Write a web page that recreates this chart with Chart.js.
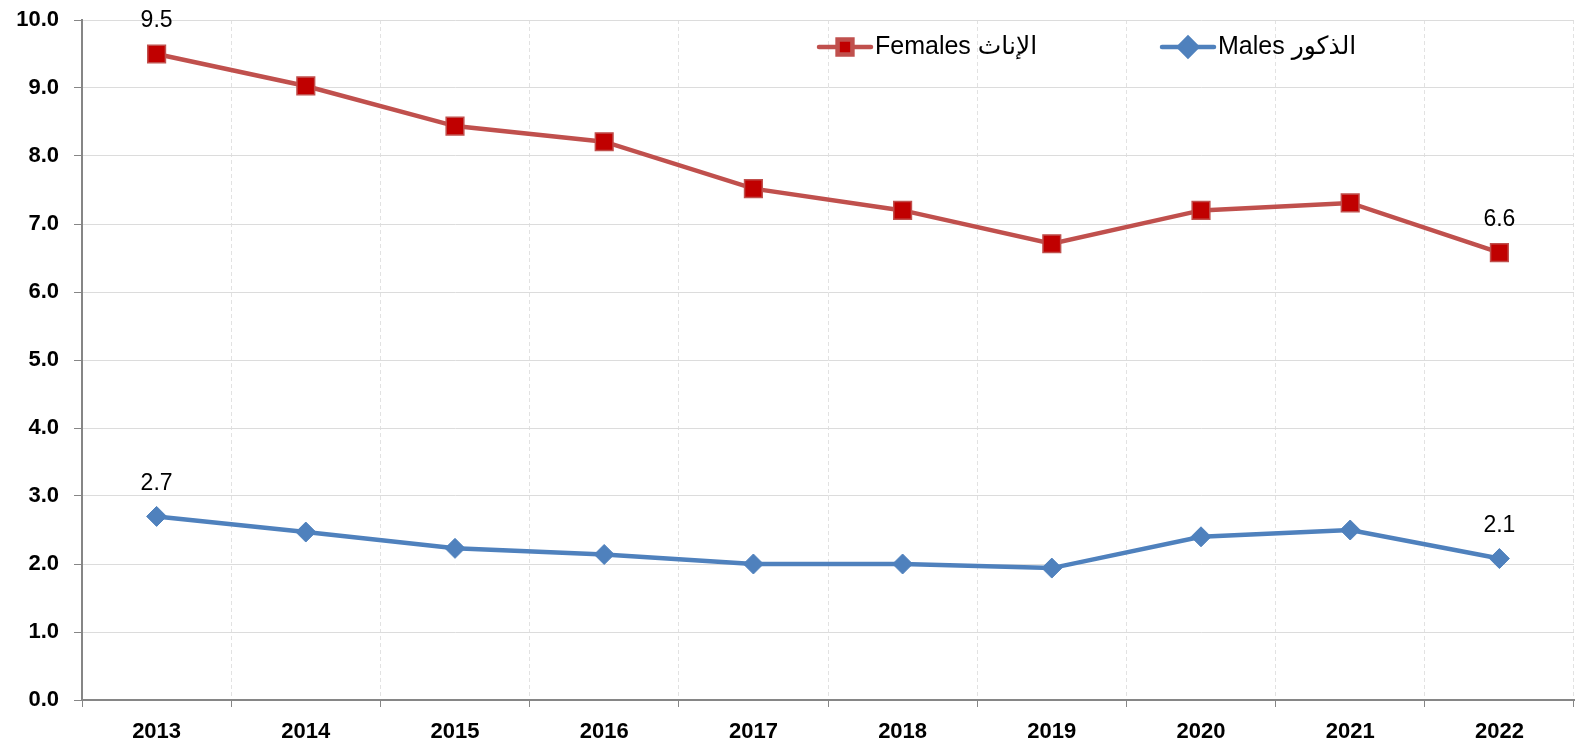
<!DOCTYPE html>
<html>
<head>
<meta charset="utf-8">
<script src="https://cdn.jsdelivr.net/npm/chart.js@4.4.1/dist/chart.umd.min.js"></script>
<style>
    html, body { margin: 0; padding: 0; background: #fff; overflow: hidden; width: 1577px; height: 748px; }
    /* a bit wider than the page: the blank strip Chart.js keeps at the right falls off-screen */
    #wrap { width: 1588px; height: 748px; position: relative; }
</style>
</head>
<body>
<div id="wrap"><canvas id="chart1"></canvas></div>
<script>
const YEARS = ['2013', '2014', '2015', '2016', '2017', '2018', '2019', '2020', '2021', '2022'];
const FEMALES = [9.5, 9.03, 8.44, 8.21, 7.52, 7.2, 6.71, 7.2, 7.31, 6.58];
const MALES = [2.7, 2.47, 2.23, 2.14, 2.0, 2.0, 1.94, 2.4, 2.5, 2.08];
const FEMALES_LABEL = 'Females الإناث';
const MALES_LABEL = 'Males الذكور';
// only first and last points carry a value label
const LABELLED = [0, 9];

const FONT = '"Liberation Sans", Arial, "DejaVu Sans", sans-serif';

// scales ask for room around their labels; the plot here goes edge to edge
const noPadding = s => {
    s.paddingTop = 0;
    s.paddingBottom = 0;
    s.paddingLeft = 0;
    s.paddingRight = 0;
};

// value labels above the first/last points
const valueLabels = {
    id: 'valueLabels',
    afterDatasetsDraw(chart) {
        const ctx = chart.ctx;
        ctx.save();
        ctx.font = `23px ${FONT}`;
        ctx.fillStyle = '#000';
        ctx.textAlign = 'center';
        ctx.textBaseline = 'middle';
        chart.data.datasets.forEach((ds, i) => {
            const meta = chart.getDatasetMeta(i);
            LABELLED.forEach(j => {
                const pt = meta.data[j];
                ctx.fillText(ds.data[j].toFixed(1), pt.x, pt.y - 33);
            });
        });
        ctx.restore();
    }
};

// legend sits inside the plot area, so draw it by hand
const LEGEND_POS = [{x: 819, y: 47}, {x: 1162, y: 47}];
const insideLegend = {
    id: 'insideLegend',
    afterDraw(chart) {
        const ctx = chart.ctx;
        ctx.save();
        chart.data.datasets.forEach((ds, i) => {
            const {x, y} = LEGEND_POS[i];
            ctx.strokeStyle = ds.borderColor;
            ctx.lineWidth = 4.5;
            ctx.lineCap = 'round';
            ctx.beginPath();
            ctx.moveTo(x, y);
            ctx.lineTo(x + 52, y);
            ctx.stroke();
            ctx.fillStyle = ds.pointBackgroundColor;
            ctx.strokeStyle = ds.pointBorderColor;
            Chart.helpers.drawPoint(ctx, {
                pointStyle: ds.pointStyle,
                radius: ds.legendRadius,
                rotation: 0,
                borderWidth: 1,
            }, x + 26, y);
            ctx.fillStyle = '#000';
            ctx.font = `25px ${FONT}`;
            ctx.textAlign = 'left';
            ctx.textBaseline = 'middle';
            ctx.fillText(ds.label, x + 56, y);
        });
        ctx.restore();
    }
};

new Chart(
    document.getElementById('chart1'),
    {
        type: 'line',
        data: {
            labels: YEARS,
            datasets: [
                {
                    label: FEMALES_LABEL,
                    data: FEMALES,
                    borderColor: '#C0504D',
                    borderWidth: 4.5,
                    pointStyle: 'rect',
                    pointRadius: 12.5,
                    legendRadius: 10.5,
                    pointBackgroundColor: '#C00000',
                    pointBorderColor: '#C0504D',
                    pointBorderWidth: 1.5,
                    tension: 0,
                },
                {
                    label: MALES_LABEL,
                    data: MALES,
                    borderColor: '#4F81BD',
                    borderWidth: 4.5,
                    pointStyle: 'rectRot',
                    pointRadius: 10,
                    legendRadius: 9,
                    pointBackgroundColor: '#4F81BD',
                    pointBorderColor: '#4F81BD',
                    pointBorderWidth: 1,
                    tension: 0,
                },
            ]
        },
        options: {
            responsive: true,
            maintainAspectRatio: false,
            animation: false,
            layout: {
                padding: {top: 20, right: 2, left: 0, bottom: 0}
            },
            scales: {
                x: {
                    offset: true,
                    grid: {
                        offset: true,
                        color: '#e2e2e2',
                        tickColor: '#868686',
                        tickLength: 7,
                        lineWidth: 1,
                    },
                    border: {
                        color: '#868686',
                        width: 2,
                        dash: [4, 3],
                    },
                    ticks: {
                        color: '#000',
                        padding: 12,
                        maxRotation: 0,
                        font: {family: FONT, size: 22, weight: 'bold'},
                    },
                    afterFit: s => {
                        s.height = 48;
                        noPadding(s);
                    },
                },
                y: {
                    min: 0,
                    max: 10,
                    ticks: {
                        stepSize: 1,
                        color: '#000',
                        padding: 15,
                        font: {family: FONT, size: 22, weight: 'bold'},
                        callback: v => v.toFixed(1),
                    },
                    grid: {
                        color: '#dcdcdc',
                        tickColor: '#868686',
                        tickLength: 8,
                        lineWidth: 1,
                    },
                    border: {
                        color: '#868686',
                        width: 2,
                    },
                    afterFit: s => {
                        s.width = 82;
                        noPadding(s);
                    },
                },
            },
            plugins: {
                legend: {display: false},
                tooltip: {enabled: false},
            }
        },
        plugins: [valueLabels, insideLegend]
    }
);
</script>
</body>
</html>
